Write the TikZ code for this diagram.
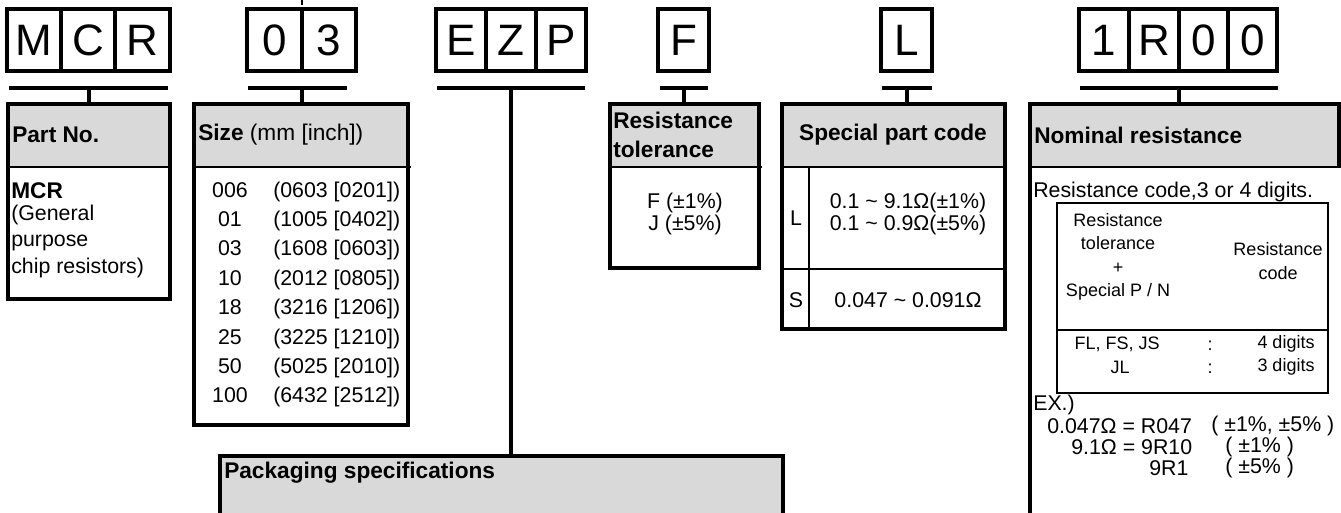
\documentclass[tikz,border=0pt]{standalone}
\usepackage{fontspec}
\setmainfont{Liberation Sans}
\usetikzlibrary{fit}
\definecolor{hdrgray}{HTML}{D9D9D9}
\begin{document}
\begin{tikzpicture}[x=0.75pt,y=-0.75pt,
  cell/.style={draw, line width=2.3pt, inner sep=0pt},
  bigch/.style={font=\fontsize{33}{33}\selectfont, inner sep=0pt},
  bar/.style={line width=3pt},
  stub/.style={line width=2.6pt},
  frame/.style={draw, line width=2.7pt, inner sep=0pt},
  sepline/.style={line width=1.6pt},
  htext/.style={font=\fontsize{17}{20}\selectfont\bfseries, inner sep=0pt},
  btext/.style={font=\fontsize{16}{16.5}\selectfont, inner sep=0pt},
  stext/.style={font=\fontsize{13.5}{17.5}\selectfont, inner sep=0pt},
]
\useasboundingbox (0,0) rectangle (1341,512);
\clip (0,0) rectangle (1341,512);

% cropped title fragment at the top edge
\coordinate (tk1) at (302,0); \coordinate (tk2) at (302,5);
\draw[line width=1.8pt] (tk1) -- (tk2);

% ---------- code boxes ----------
\foreach \nm/\xa/\xb/\ch in {cM/7/61/M, cC/61/115/C, cR/115/170/R,
    c0/247/302/0, c3/302/356/3,
    cE/436/486/E, cZ/486/536/Z, cP/536/586/P,
    cF/658/709/F, cL/881/932/L,
    d1/1079/1129/1, d2/1129/1179/R, d3/1179/1228/0, d4/1228/1277/0} {
  \node[cell, fit={(\xa,9) (\xb,71)}] (\nm) {};
  \node[bigch] (\nm t) at (\nm.center) {\ch};
}

% ---------- bars ----------
\coordinate (b1l) at (9,88);    \coordinate (b1r) at (168,88);   \coordinate (b1) at (89,88);
\coordinate (b2l) at (248,88);  \coordinate (b2r) at (347,88);   \coordinate (b2) at (302,88);
\coordinate (b3l) at (437,88);  \coordinate (b3r) at (585,88);   \coordinate (b3) at (511,88);
\coordinate (b4l) at (660,88);  \coordinate (b4r) at (708,88);   \coordinate (b4) at (684,88);
\coordinate (b5l) at (882,88);  \coordinate (b5r) at (932,88);   \coordinate (b5) at (907,88);
\coordinate (b6l) at (1080,88); \coordinate (b6r) at (1278,88);  \coordinate (b6) at (1179,88);
\foreach \i in {1,...,6} { \draw[bar] (b\i l) -- (b\i r); }

% ---------- info boxes: header fills ----------
\fill[hdrgray] (8,104) rectangle (170,167);
\fill[hdrgray] (194,104) rectangle (408,167);
\fill[hdrgray] (610,104) rectangle (759,167);
\fill[hdrgray] (782,104) rectangle (1005,167);
\fill[hdrgray] (1030,104) rectangle (1341,167);
\fill[hdrgray] (220,456) rectangle (783,530);

% frames
\node[frame, fit={(8,104) (170,299)}] (partno) {};
\node[frame, fit={(194,104) (408,425)}] (size) {};
\node[frame, fit={(610,104) (759,268)}] (tol) {};
\node[frame, fit={(782,104) (1005,329)}] (spc) {};
\node[frame, fit={(220,456) (783,530)}] (pack) {};
\coordinate (nomtl) at (1030,104);
\coordinate (nomtr) at (1339,104);
\coordinate (nombl) at (1030,530);
\draw[line width=2.7pt] (nombl) -- (nomtl) -- (nomtr) -- (nomtr |- 0,167);
\coordinate (nom) at (1185,104);

% header separators
\draw[sepline] (8,167) -- (171,167);
\draw[sepline] (194,167) -- (411,167);
\draw[sepline] (610,167) -- (762,167);
\draw[sepline] (782,167) -- (1005,167);
\draw[sepline] (1030,167) -- (1341,167);
% special part code inner lines
\draw[sepline] (809,167) -- (809,329);
\draw[sepline] (782,269) -- (1005,269);

% ---------- stubs ----------
\draw[stub] (b1) -- (b1 |- partno.north);
\draw[stub] (b2) -- (b2 |- size.north);
\draw[stub] (b3) -- (b3 |- pack.north);
\draw[stub] (b4) -- (b4 |- tol.north);
\draw[stub] (b5) -- (b5 |- spc.north);
\draw[stub] (b6) -- (b6 |- nom);

% ---------- Part No. ----------
\node[htext, anchor=west] (h1) at (12,135) {Part No.};
\node[htext, anchor=base west] (p1) at (11,198) {MCR};
\node[btext, anchor=base west] (p2) at (11,220) {(General};
\node[btext, anchor=base west] (p3) at (11,246) {purpose};
\node[btext, anchor=base west] (p4) at (11,273) {chip resistors)};

% ---------- Size ----------
\node[htext, anchor=west] (h2) at (198,135) {Size \mdseries(mm [inch])};
\foreach \c/\v [count=\k from 0] in {006/(0603 [0201]),01/(1005 [0402]),03/(1608 [0603]),10/(2012 [0805]),18/(3216 [1206]),25/(3225 [1210]),50/(5025 [2010]),100/(6432 [2512])} {
  \node[btext, anchor=base] (sc\k) at (230,197+29.4*\k) {\c};
  \node[btext, anchor=base west] (sv\k) at (273,197+29.4*\k) {\v};
}

% ---------- Packaging ----------
\node[htext, anchor=west] (h3) at (224,473) {Packaging specifications};

% ---------- Resistance tolerance ----------
\node[htext, anchor=base west] (h4a) at (613,128) {Resistance};
\node[htext, anchor=base west] (h4b) at (613,157) {tolerance};
\node[btext, align=center] (t1) at (685,214) {F (±1\%)\\J (±5\%)};

% ---------- Special part code ----------
\node[htext] (h5) at (893,135) {Special part code};
\node[btext] (sL) at (796,218) {L};
\node[btext, align=center] (sLv) at (908,214) {0.1 \textasciitilde{} 9.1Ω(±1\%)\\0.1 \textasciitilde{} 0.9Ω(±5\%)};
\node[btext] (sS) at (796,300) {S};
\node[btext] (sSv) at (908,300) {0.047 \textasciitilde{} 0.091Ω};

% ---------- Nominal resistance ----------
\node[htext, anchor=west] (h6) at (1034,135) {Nominal resistance};
\node[btext, anchor=west] (n1) at (1033,192) {Resistance code,3 or 4 digits.};
\node[draw, line width=1.6pt, inner sep=0pt, fit={(1057,203) (1328,393)}] (itab) {};
\draw[sepline] (itab.west |- 0,330) -- (itab.east |- 0,330);
\node[stext, align=center] (ic1) at (1118,257) {Resistance\\tolerance\\+\\Special P / N};
\node[stext, align=center] (ic2) at (1278,261) {Resistance\\code};
\node[stext] (r1a) at (1117,344) {FL, FS, JS};
\node[stext] (r1b) at (1210,346) {:};
\node[stext] (r1c) at (1286,344) {4 digits};
\node[stext] (r2a) at (1120,367) {JL};
\node[stext] (r2b) at (1210,369) {:};
\node[stext] (r2c) at (1286,367) {3 digits};
\node[btext, anchor=west] (ex) at (1033,405) {EX.)};
\node[btext, anchor=west] (e1a) at (1047,426) {0.047Ω = R047};
\node[btext, anchor=west] (e1b) at (1211,426) {( ±1\%, ±5\% )};
\node[btext, anchor=west] (e2a) at (1071,447) {9.1Ω = 9R10};
\node[btext, anchor=west] (e2b) at (1225,447) {( ±1\% )};
\node[btext, anchor=west] (e3a) at (1149,468) {9R1};
\node[btext, anchor=west] (e3b) at (1225,468) {( ±5\% )};
\end{tikzpicture}
\end{document}
